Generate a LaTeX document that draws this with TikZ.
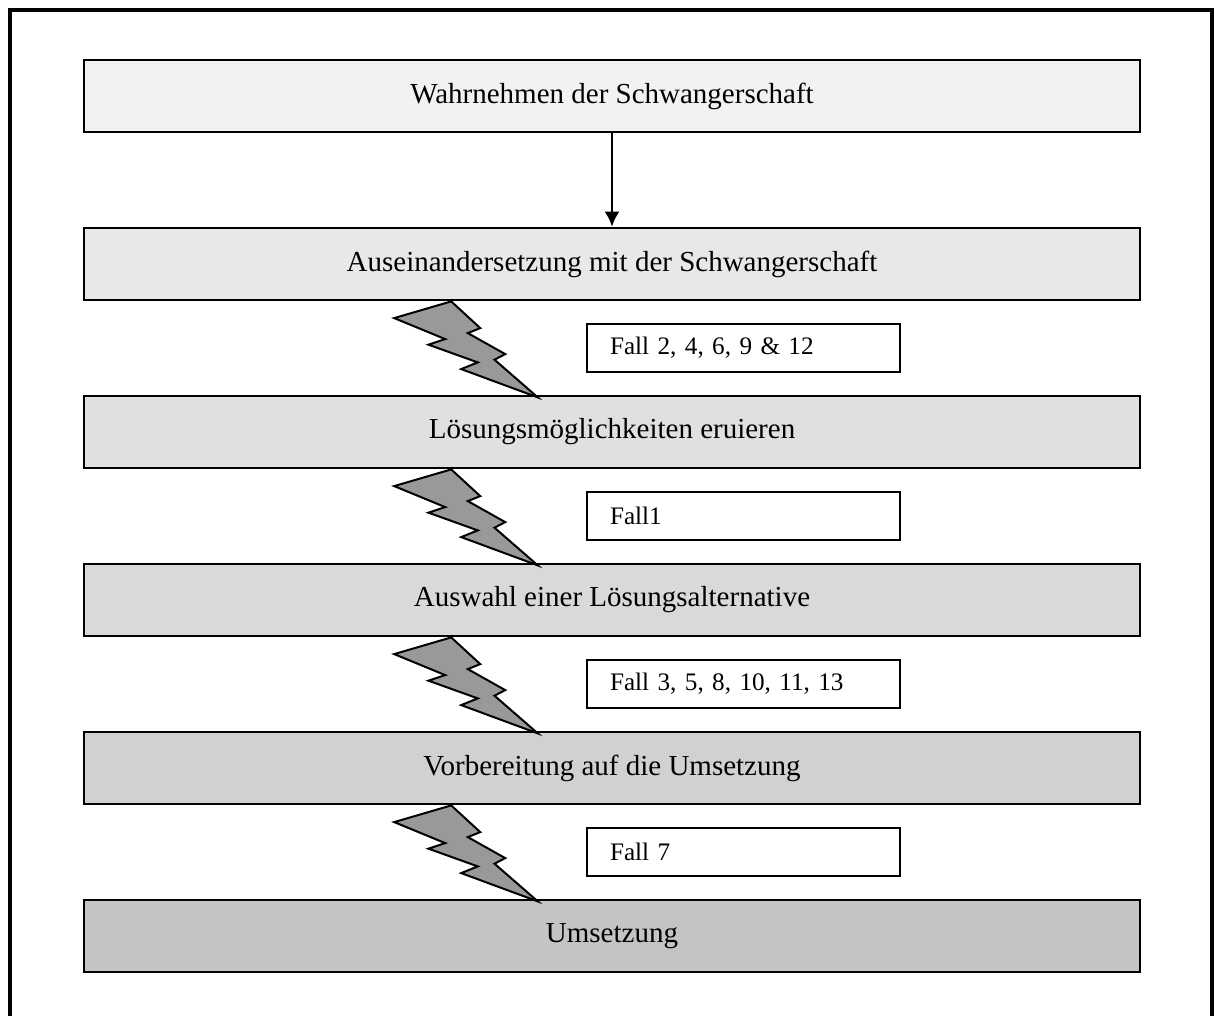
\documentclass[tikz,border=0pt]{standalone}
\usepackage{fontspec}
\setmainfont{Liberation Serif}
\usetikzlibrary{arrows.meta}

\begin{document}
\begin{tikzpicture}[x=0.5pt,y=-0.5pt]

		\clip (0,0) rectangle (1215,1016);
		\draw[line width=1.8pt] (10,10) rectangle (1212,1040);

		\tikzset{phase/.style = {draw, line width = 1.4pt, minimum width = 528pt, minimum height = 36pt,
				inner sep = 0pt, font = \fontsize{14.5}{17}\selectfont}}
		\tikzset{fall/.style = {draw, line width = 1.3pt, fill = white, minimum height = 24pt,
				text width = 133.5pt, inner xsep = 11.5pt, inner ysep = 0pt, align = left,
				font = \fontsize{12.6}{15}\selectfont}}
		\tikzset{bolt/.pic = {
				\draw[fill = black!40, line width = 1pt, line join = miter]
				(0,0) -- (-57,16.7) -- (-6,37.7) -- (-22.7,43.3) -- (26.6,61) -- (10,67.7)
				-- (86.6,96) -- (43.3,58.3) -- (54,52.7) -- (16.6,31.7) -- (29,26.7) -- cycle;
		}}

		\node[phase, fill = black!5]  (wahr)  at (612,96)  {Wahrnehmen der Schwangerschaft};
		\node[phase, fill = black!9]  (ausei) at (612,264) {Auseinandersetzung mit der Schwangerschaft};
		\node[phase, fill = black!12] (loes)  at (612,432) {Lösungsmöglichkeiten eruieren};
		\node[phase, fill = black!15] (ausw)  at (612,600) {Auswahl einer Lösungsalternative};
		\node[phase, fill = black!18] (vorb)  at (612,768) {Vorbereitung auf die Umsetzung};
		\node[phase, fill = black!23] (umset) at (612,936) {Umsetzung};

		\node[fall] (fallA) at (743.5,348) {Fall 2, 4, 6, 9 \& 12};
		\node[fall] (fallB) at (743.5,516) {Fall1};
		\node[fall] (fallC) at (743.5,684) {Fall 3, 5, 8, 10, 11, 13};
		\node[fall] (fallD) at (743.5,852) {Fall 7};

		\tikzset{>={Latex[length=7.5pt,width=7.5pt]}} % arrowhead
		\draw[->, line width = 1pt] (wahr) -- (ausei);

		% bolts between the phases
		\pic at ([xshift=184.3pt]ausei.south west) {bolt};
		\pic at ([xshift=184.3pt]loes.south west) {bolt};
		\pic at ([xshift=184.3pt]ausw.south west) {bolt};
		\pic at ([xshift=184.3pt]vorb.south west) {bolt};

\end{tikzpicture}
\end{document}
